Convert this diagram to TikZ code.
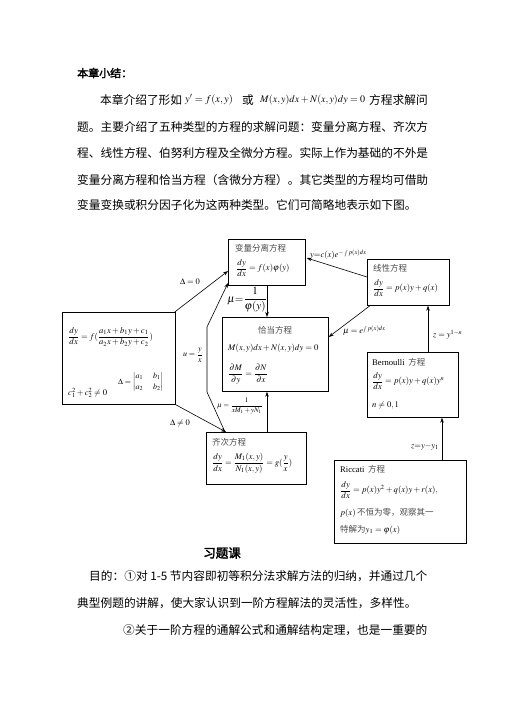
\documentclass[tikz,border=0pt]{standalone}
\usepackage{amsmath}
\usepackage{mathptmx}
\usepackage[no-math]{fontspec}
\setmainfont{Liberation Serif}
\newfontfamily\cjk{Noto Sans CJK SC}
\newfontfamily\cjkb[FakeBold=2.5]{Noto Sans CJK SC}
\usetikzlibrary{arrows.meta,calc}
\begin{document}
\begin{tikzpicture}[x=1pt,y=-1pt,
  box/.style={draw, line width=0.7pt, inner sep=0pt, anchor=north west},
  ttl/.style={font=\cjk\fontsize{8.5}{9}\selectfont, text=black!70, inner sep=0pt, anchor=west},
  eq/.style={font=\fontsize{8.6}{10}\selectfont, inner sep=0pt, anchor=west},
  para/.style={font=\cjk\fontsize{11.7}{14}\selectfont, inner sep=0pt, anchor=west},
  lbl/.style={font=\fontsize{8.5}{9}\selectfont, inner sep=0pt},
  arr/.style={-{Stealth[length=5pt,width=3.5pt]}, line width=0.6pt}]
\useasboundingbox (0,0) rectangle (504,713);
\fill[white] (0,0) rectangle (504,713);

% ---------- top text ----------
\node[para, font=\cjkb\fontsize{11}{13}\selectfont] (head) at (77,73) {本章小结：};
\node[para] (p1a) at (100,100) {本章介绍了形如};
\node[eq, font=\fontsize{10.5}{12}\selectfont] (p1b) at (185,100) {$y'=f(x,y)$};
\node[para] (p1c) at (242,100) {或};
\node[eq, font=\fontsize{10}{12}\selectfont] (p1d) at (260,100) {$M(x,y)dx+N(x,y)dy=0$};
\node[para] (p1e) at (369,100) {方程求解问};
\node[para] (p2) at (77,127) {题。主要介绍了五种类型的方程的求解问题：变量分离方程、齐次方};
\node[para] (p3) at (77,153) {程、线性方程、伯努利方程及全微分方程。实际上作为基础的不外是};
\node[para] (p4) at (77,180) {变量分离方程和恰当方程（含微分方程）。其它类型的方程均可借助};
\node[para] (p5) at (77,205) {变量变换或积分因子化为这两种类型。它们可简略地表示如下图。};

% ---------- boxes ----------
\node[box, minimum width=77pt, minimum height=46pt] (A) at (228,239) {};
\node[box, minimum width=82pt, minimum height=46pt] (B) at (367,259) {};
\node[box, minimum width=106pt, minimum height=74pt] (C) at (222,317) {};
\node[box, minimum width=113pt, minimum height=92pt] (D) at (62,312) {};
\node[box, minimum width=91pt, minimum height=65pt] (E) at (367,352) {};
\node[box, minimum width=100pt, minimum height=52pt] (F) at (206,432) {};
\node[box, minimum width=132pt, minimum height=83pt] (G) at (334,460) {};

% box contents
\node[ttl] (At) at (235,248) {变量分离方程};
\node[eq] (Ae) at (236,268) {$\displaystyle\frac{dy}{dx}=f(x)\varphi(y)$};

\node[ttl] (Bt) at (373,268) {线性方程};
\node[eq] (Be) at (373,288) {$\displaystyle\frac{dy}{dx}=p(x)y+q(x)$};

\node[ttl, anchor=center] (Ct) at (275,330) {恰当方程};
\node[eq] (Ce1) at (228,348) {$M(x,y)dx+N(x,y)dy=0$};
\node[eq] (Ce2) at (228,374) {$\displaystyle\frac{\partial M}{\partial y}=\frac{\partial N}{\partial x}$};

\node[eq] (De1) at (68,337) {$\displaystyle\frac{dy}{dx}=f(\frac{a_1x+b_1y+c_1}{a_2x+b_2y+c_2})$};
\node[eq, font=\fontsize{8}{9}\selectfont] (De2) at (118,382) {$\Delta=\begin{vmatrix}a_1 & b_1\\[1.5pt] a_2 & b_2\end{vmatrix}$};
\node[eq] (De3) at (68,393) {$c_1^2+c_2^2\neq 0$};

\node[eq] (Et) at (372,362) {Bernoulli\, {\cjk\fontsize{8.5}{9}\selectfont\color{black!70}方程}};
\node[eq] (Ee1) at (372,381) {$\displaystyle\frac{dy}{dx}=p(x)y+q(x)y^n$};
\node[eq] (Ee2) at (372,405) {$n\neq 0,1$};

\node[ttl] (Ft) at (212,442) {齐次方程};
\node[eq] (Fe) at (212,463) {$\displaystyle\frac{dy}{dx}=\frac{M_1(x,y)}{N_1(x,y)}=g(\frac{y}{x})$};

\node[eq] (Gt) at (340,469) {Riccati\, {\cjk\fontsize{8.5}{9}\selectfont\color{black!70}方程}};
\node[eq] (Ge1) at (340,490) {$\displaystyle\frac{dy}{dx}=p(x)y^2+q(x)y+r(x),$};
\node[eq] (Ge2) at (340,513) {$p(x)$\,{\cjk\fontsize{8.5}{9}\selectfont\color{black!70}不恒为零，观察其一}};
\node[eq] (Ge3) at (340,530) {{\cjk\fontsize{8.5}{9}\selectfont\color{black!70}特解为}$y_1=\varphi(x)$};

% ---------- connectors ----------
\coordinate (k1) at (207,392);
\coordinate (k2) at (207,327);
\draw[arr] ($(D.north east)+(-1,0)$) -- ($(A.north west)+(0,32)$);
\draw[arr] (D.south east) -- ($(F.north west)+(20,0)$);
\draw[arr] ($(F.north west)+(19,0)$) -- (k1) -- (k2) -- ($(A.north west)+(0,44)$);
\draw[arr] ($(A.south west)+(39,0)$) -- ($(C.north west)+(45,0)$);
\draw[arr] ($(F.north west)+(61,0)$) -- ($(C.south west)+(45,0)$);
\draw[arr] ($(B.north west)+(0,18)$) -- ($(A.north east)+(1,19)$);
\draw[arr] ($(B.south west)+(3,0)$) -- ($(C.north east)+(0,20)$);
\draw[arr] ($(E.north west)+(61,0)$) -- ($(B.south west)+(61,0)$);
\draw[arr] ($(G.north west)+(108,0)$) -- ($(E.south west)+(75,0)$);

% connector labels
\node[lbl] (l1) at (190,282) {$\Delta=0$};
\node[lbl] (l2) at (180,423) {$\Delta\neq 0$};
\node[lbl, font=\fontsize{8}{9}\selectfont] (l3) at (193,355) {$u=\dfrac{y}{x}$};
\node[lbl, font=\fontsize{11}{12}\selectfont] (l4) at (247,300) {$\mu{=}\dfrac{1}{\varphi(y)}$};
\node[lbl, font=\fontsize{7}{8}\selectfont] (l5) at (240,406) {$\mu=\dfrac{1}{xM_1+yN_1}$};
\node[lbl, anchor=west] (l6) at (310,255) {$y{=}c(x)e^{-\int p(x)dx}$};
\node[lbl, anchor=west] (l7) at (343,331) {$\mu=e^{\int p(x)dx}$};
\node[lbl, anchor=west] (l8) at (433,335) {$z=y^{1-n}$};
\node[lbl, anchor=east] (l9) at (439,447) {$z{=}y{-}y_1$};

% ---------- bottom text ----------
\node[para, font=\cjkb\fontsize{12.5}{14}\selectfont, anchor=center] (ex) at (222,553) {习题课};
\node[para] (q1) at (89,576) {目的：①对 1-5 节内容即初等积分法求解方法的归纳，并通过几个};
\node[para] (q2) at (77,603) {典型例题的讲解，使大家认识到一阶方程解法的灵活性，多样性。};
\node[para] (q3) at (123,630) {②关于一阶方程的通解公式和通解结构定理，也是一重要的};
\end{tikzpicture}
\end{document}
